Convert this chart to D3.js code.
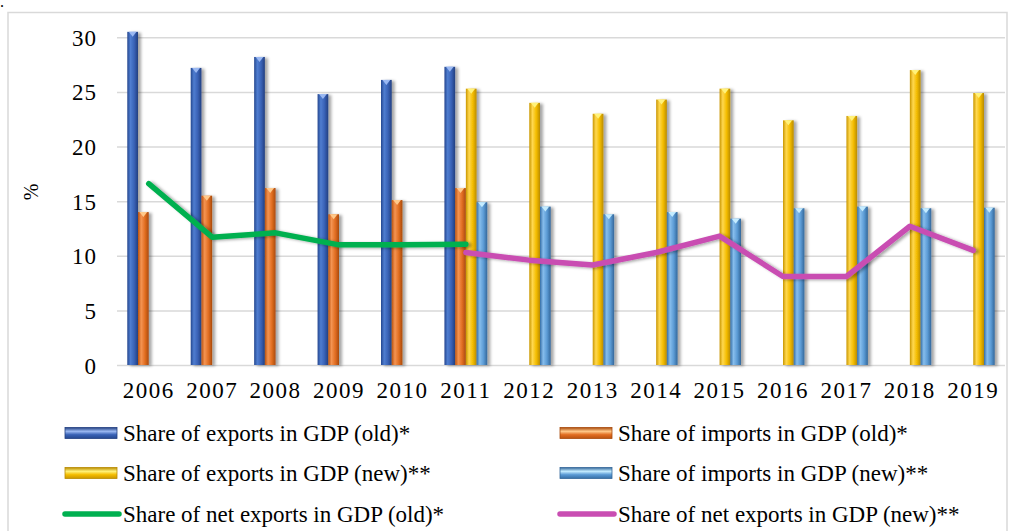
<!DOCTYPE html>
<html><head>
<meta charset="utf-8">
<script src="https://d3js.org/d3.v7.min.js"></script>
<style>
  body { margin: 0; background: #fff; }
  svg text { font-family: "Liberation Serif", "Times New Roman", serif; fill: #000; }
  .grid line { stroke: #d9d9d9; stroke-width: 1.5; }
  .grid path { stroke: none; }
</style>
</head>
<body>
<svg id="chart" width="1010" height="531"></svg>
<script>
// data
var years = ["2006","2007","2008","2009","2010","2011","2012","2013","2014","2015","2016","2017","2018","2019"];
var exportsOld = [30.5, 27.2, 28.2, 24.8, 26.1, 27.3, null, null, null, null, null, null, null, null];
var importsOld = [14.0, 15.5, 16.2, 13.8, 15.1, 16.2, null, null, null, null, null, null, null, null];
var exportsNew = [null, null, null, null, null, 25.3, 24.0, 23.0, 24.3, 25.3, 22.4, 22.8, 27.0, 24.9];
var importsNew = [null, null, null, null, null, 14.9, 14.5, 13.8, 14.0, 13.4, 14.35, 14.5, 14.35, 14.4];
var netOld = [16.6, 11.7, 12.1, 11.0, 11.0, 11.05, null, null, null, null, null, null, null, null];
var netNew = [null, null, null, null, null, 10.3, 9.6, 9.15, 10.3, 11.8, 8.1, 8.1, 12.7, 10.5];
var yTicks = [0, 5, 10, 15, 20, 25, 30];

var barNames = ["Share of exports in GDP (old)*", "Share of imports in GDP (old)*",
                "Share of exports in GDP (new)**", "Share of imports in GDP (new)**"];
var lineNames = ["Share of net exports in GDP (old)*", "Share of net exports in GDP (new)**"];

var barSeries = [exportsOld, importsOld, exportsNew, importsNew];
var lineSeries = [netOld, netNew];

// looks
var barCols = [
  ["#24478f", "#4f7dd0", "#3962b6", "#223f80", "#9ab8f2"],
  ["#b9520f", "#f49452", "#e26e22", "#a94a0c", "#ffc98a"],
  ["#c99600", "#ffd84f", "#f4bd00", "#b98b00", "#fff27a"],
  ["#356ea6", "#86bdec", "#5b9bd5", "#33679a", "#c4ecff"]
];
var lineCols = ["#00b050", "#c94db2"];

var svg = d3.select("#chart");
var defs = svg.append("defs");

var sh = defs.append("filter").attr("id", "shadow")
  .attr("x", "-50%").attr("y", "-10%").attr("width", "250%").attr("height", "130%");
sh.append("feDropShadow").attr("dx", 3).attr("dy", 1).attr("stdDeviation", 1.6)
  .attr("flood-color", "#000").attr("flood-opacity", 0.35);

barCols.forEach(function(c, i) {
  var g = defs.append("linearGradient").attr("id", "cyl" + i)
    .attr("x1", 0).attr("x2", 1).attr("y1", 0).attr("y2", 0);
  g.append("stop").attr("offset", "0%").attr("stop-color", c[0]);
  g.append("stop").attr("offset", "30%").attr("stop-color", c[1]);
  g.append("stop").attr("offset", "65%").attr("stop-color", c[2]);
  g.append("stop").attr("offset", "100%").attr("stop-color", c[3]);
  var h = defs.append("linearGradient").attr("id", "leg" + i)
    .attr("x1", 0).attr("x2", 0).attr("y1", 0).attr("y2", 1);
  h.append("stop").attr("offset", "0%").attr("stop-color", c[3]);
  h.append("stop").attr("offset", "35%").attr("stop-color", c[4]);
  h.append("stop").attr("offset", "65%").attr("stop-color", c[2]);
  h.append("stop").attr("offset", "100%").attr("stop-color", c[0]);
});

// frame
svg.append("rect").attr("x", 8).attr("y", 12.5).attr("width", 999).attr("height", 540)
  .attr("fill", "none").attr("stroke", "#d9d9d9").attr("stroke-width", 1.5);

// stray full stop from the caption above the figure
svg.append("text").attr("x", 0).attr("y", 7).style("font-size", "16px").text(".");

var plotLeft = 117, plotRight = 1005, plotTop = 37.3, plotBottom = 365;

var x = d3.scaleBand().domain(years).range([plotLeft, plotRight]);
var slot = d3.scaleBand().domain([0, 1, 2, 3]).range([0, x.bandwidth()]).paddingOuter(0.96);
var y = d3.scaleLinear().domain([0, 30]).range([plotBottom, plotTop]);

// grid + y labels
var ga = svg.append("g").attr("class", "grid")
  .attr("transform", "translate(" + plotLeft + ",0)")
  .call(d3.axisLeft(y).tickValues(yTicks).tickSize(-(plotRight - plotLeft)).tickPadding(20).tickFormat(d3.format("d")));
ga.selectAll("text").style("font-size", "23px").style("letter-spacing", "1px").attr("dy", "0.35em");

// x labels
var xa = svg.append("g").attr("transform", "translate(0," + plotBottom + ")")
  .call(d3.axisBottom(x).tickSize(0).tickPadding(17));
xa.select(".domain").remove();
xa.selectAll("text").style("font-size", "23px").style("letter-spacing", "1.5px").attr("dy", "0.71em");

// y title
svg.append("text").attr("transform", "translate(38,192) rotate(-90)")
  .attr("text-anchor", "middle").style("font-size", "20px").text("%");

// bars
barSeries.forEach(function(vals, si) {
  var g = svg.append("g").attr("filter", "url(#shadow)");
  var pts = years.map(function(yr, i) { return { yr: yr, v: vals[i] }; })
    .filter(function(d) { return d.v != null; });
  g.selectAll("rect").data(pts).enter().append("rect")
    .attr("x", function(d) { return x(d.yr) + slot(si); })
    .attr("y", function(d) { return y(d.v); })
    .attr("width", slot.bandwidth())
    .attr("height", function(d) { return y(0) - y(d.v); })
    .attr("fill", "url(#cyl" + si + ")");
  g.selectAll("path").data(pts).enter().append("path")
    .attr("d", function(d) {
      var x0 = x(d.yr) + slot(si), w = slot.bandwidth(), t = y(d.v);
      return "M" + (x0 + 1.5) + "," + t + "L" + (x0 + w - 1.5) + "," + t + "L" + (x0 + w / 2) + "," + (t + 5) + "Z";
    })
    .attr("fill", barCols[si][4]);
});

// lines
var line = d3.line()
  .defined(function(d) { return d.v != null; })
  .x(function(d) { return x(d.yr) + x.bandwidth() / 2; })
  .y(function(d) { return y(d.v); });

lineSeries.forEach(function(vals, si) {
  var pts = years.map(function(yr, i) { return { yr: yr, v: vals[i] }; });
  svg.append("path").datum(pts)
    .attr("d", line)
    .attr("fill", "none")
    .attr("stroke", lineCols[si])
    .attr("stroke-width", 5.5)
    .attr("stroke-linecap", "round")
    .attr("stroke-linejoin", "round")
    .attr("filter", "url(#shadow)");
});

// legend
var legRows = [433, 473, 514];
var legCols = [65, 560];
var items = [
  { name: barNames[0], kind: "bar", i: 0, r: 0, c: 0 },
  { name: barNames[1], kind: "bar", i: 1, r: 0, c: 1 },
  { name: barNames[2], kind: "bar", i: 2, r: 1, c: 0 },
  { name: barNames[3], kind: "bar", i: 3, r: 1, c: 1 },
  { name: lineNames[0], kind: "line", i: 0, r: 2, c: 0 },
  { name: lineNames[1], kind: "line", i: 1, r: 2, c: 1 }
];
var leg = svg.append("g");
items.forEach(function(it) {
  var lx = legCols[it.c], ly = legRows[it.r];
  if (it.kind === "bar") {
    leg.append("rect").attr("x", lx).attr("y", ly - 5.5).attr("width", 52).attr("height", 11)
      .attr("fill", "url(#leg" + it.i + ")").attr("stroke", barCols[it.i][3]).attr("stroke-width", 0.8);
  } else {
    leg.append("line").attr("x1", lx).attr("x2", lx + 54).attr("y1", ly).attr("y2", ly)
      .attr("stroke", lineCols[it.i]).attr("stroke-width", 5.5).attr("stroke-linecap", "round");
  }
  leg.append("text").attr("x", lx + 58).attr("y", ly).attr("dy", "0.35em")
    .style("font-size", "23px").text(it.name);
});
</script>
</body></html>
